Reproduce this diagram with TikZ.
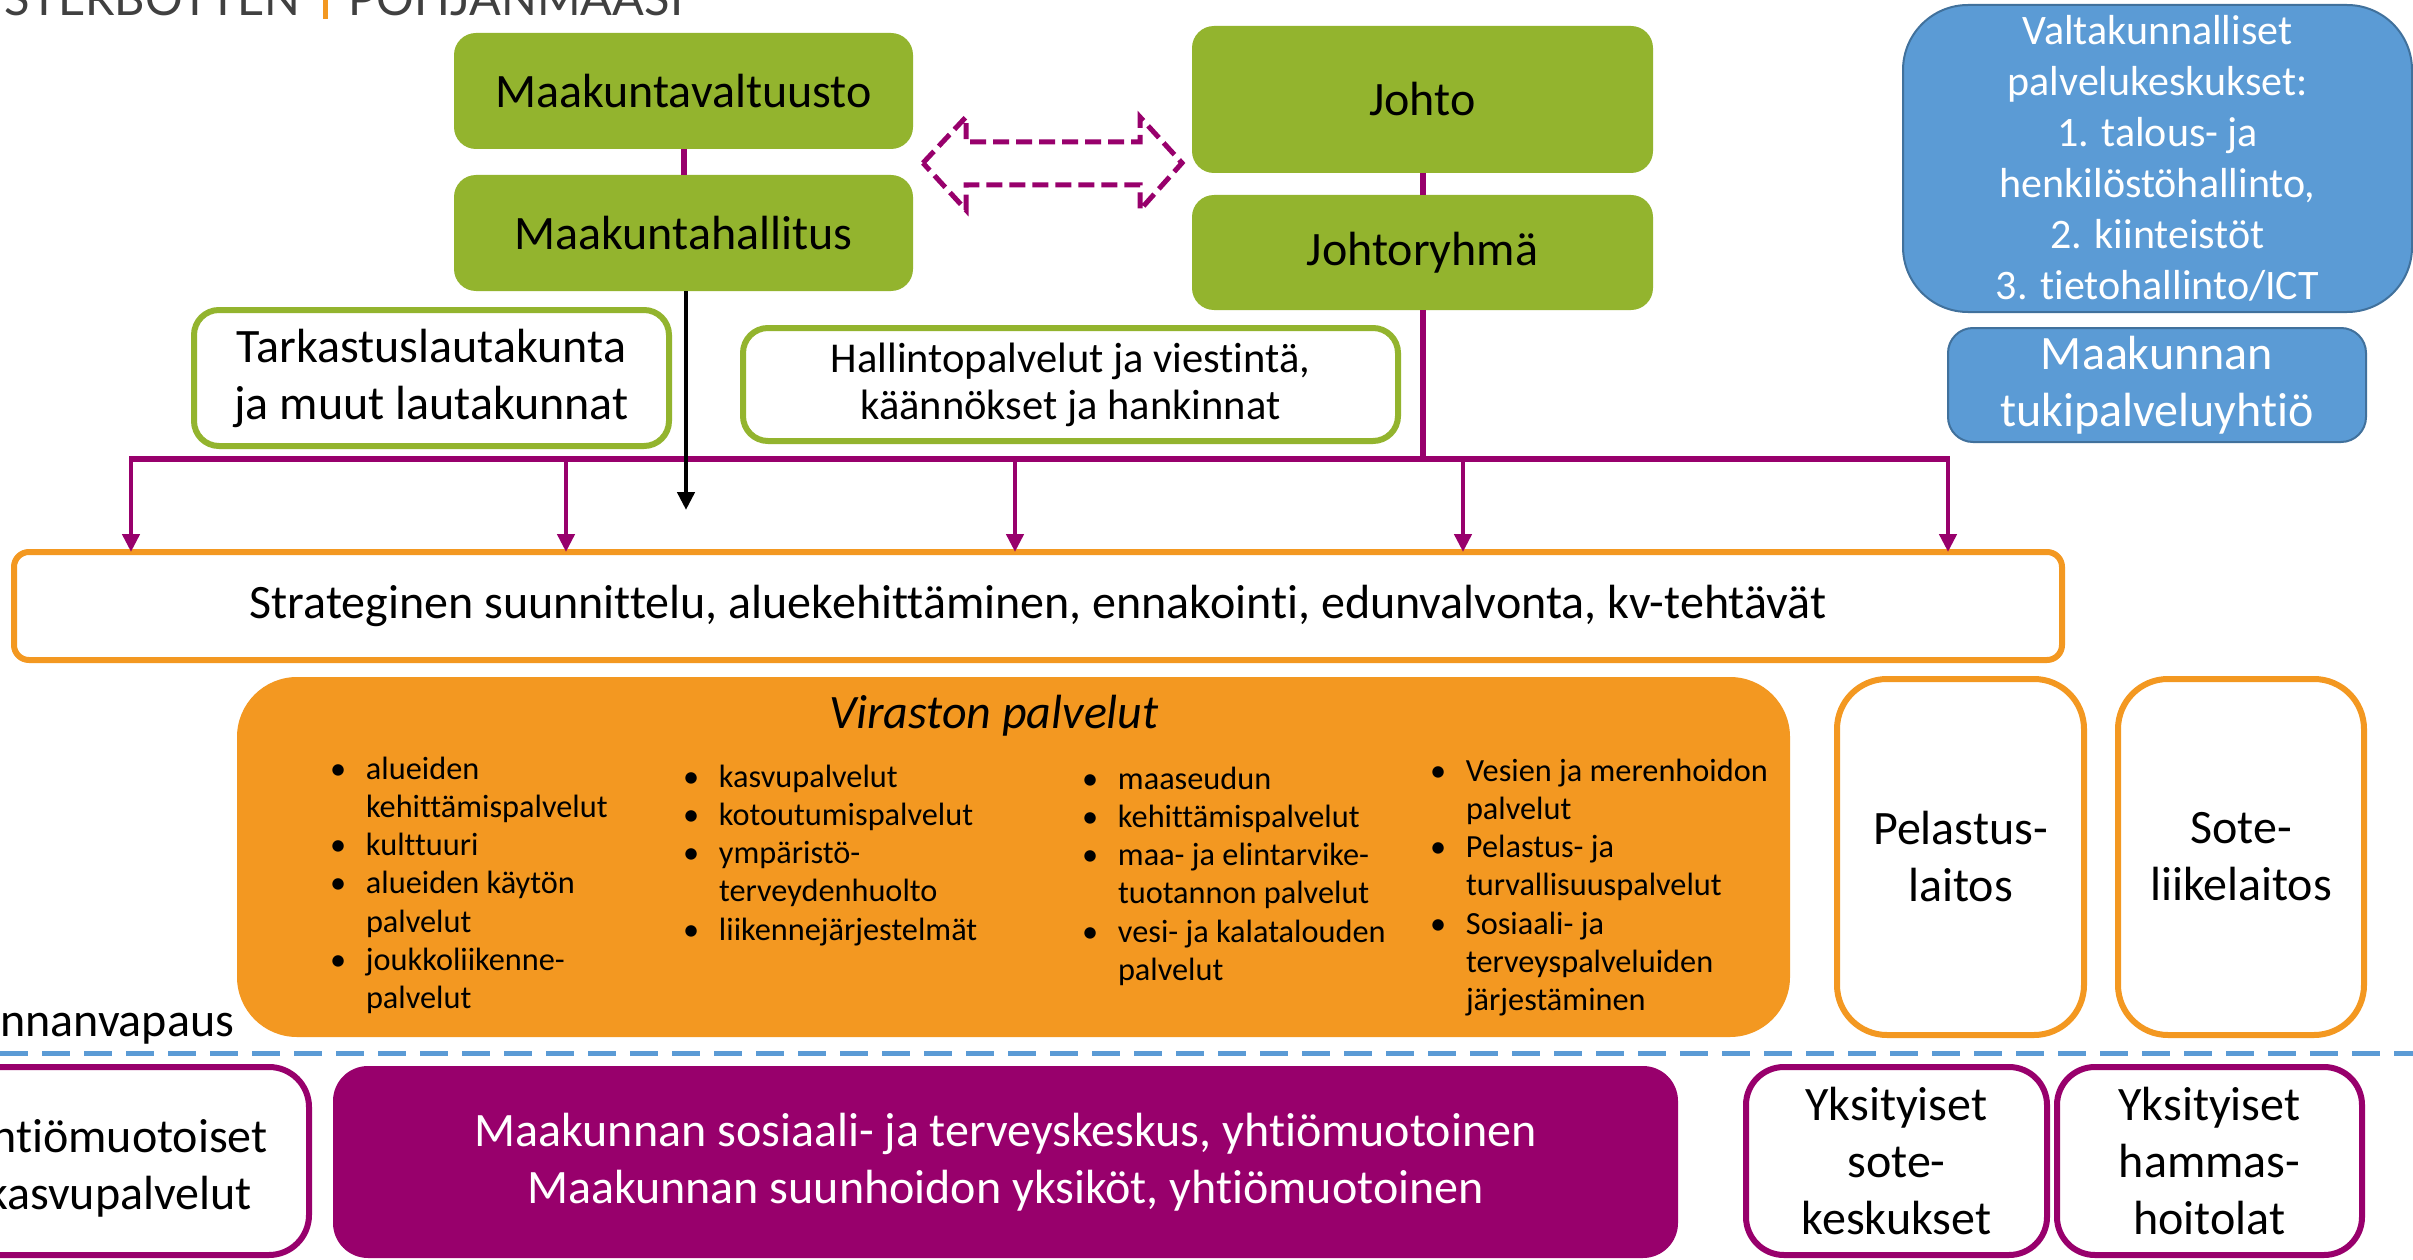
\documentclass[tikz,border=0pt]{standalone}
\usepackage{fontspec}
\setmainfont{Carlito}[Ligatures={TeX,NoCommon}]
\newfontfamily\hdrfont{Lato}
\usetikzlibrary{arrows.meta}
\definecolor{grn}{RGB}{147,180,46}
\definecolor{mag}{RGB}{152,0,108}
\definecolor{org}{RGB}{243,152,33}
\definecolor{blu}{RGB}{91,155,213}
\definecolor{bludk}{RGB}{65,113,156}
\definecolor{hdr}{RGB}{64,64,64}
\newcommand\fBig{\fontsize{48}{57}\selectfont}
\newcommand\fMid{\fontsize{42.5}{47}\selectfont}
\newcommand\fBlue{\fontsize{42}{51}\selectfont}
\newcommand\fBul{\fontsize{32.3}{38.3}\selectfont}
\newcommand\bitem[1]{\makebox[36pt][l]{\textbullet}#1}
\newcommand\bcont[1]{\hspace*{36pt}#1}
\begin{document}
\begin{tikzpicture}[x=1pt,y=-1pt,
  base/.style={inner sep=0pt, outer sep=0pt, align=center, font=\fBig},
  gbox/.style={base, fill=grn, rounded corners=22pt},
  gframe/.style={base, draw=grn, line width=6pt, fill=white, rounded corners=25pt},
  oframe/.style={base, draw=org, line width=6pt, fill=white, rounded corners=50pt},
  mframe/.style={base, draw=mag, line width=6pt, fill=white, rounded corners=38pt},
  bbox/.style={base, fill=blu, draw=bludk, line width=2pt, text=white},
  magline/.style={draw=mag, line width=6pt},
  drop/.style={draw=mag, line width=4.5pt, -{Triangle[length=18pt,width=17pt]}},
  blkarr/.style={draw=black, line width=4.5pt, -{Triangle[length=18pt,width=17pt]}},
  dasharr/.style={draw=mag, line width=5pt, dash pattern=on 16pt off 7pt},
  bdash/.style={draw=blu, line width=5pt, dash pattern=on 28pt off 14pt},
  bullets/.style={inner sep=0pt, outer sep=0pt, anchor=base west, font=\fBul, align=left}
]
\useasboundingbox (0,0) rectangle (2413,1260);
\fill[white] (0,0) rectangle (2413,1260);

% header
\node[inner sep=0pt, anchor=base east, font=\hdrfont\fontsize{47}{50}\selectfont, text=hdr] (h1) at (300,16) {STERBOTTEN};
\node[inner sep=0pt, anchor=base west, font=\hdrfont\fontsize{47}{50}\selectfont, text=hdr] (h2) at (348,16) {POHJANMAASI};
\fill[org] (323,-5) rectangle (328,19);

% green governance boxes
\node[gbox, minimum width=459pt, minimum height=116pt] (mval) at (683.5,91) {Maakuntavaltuusto};
\node[gbox, minimum width=459pt, minimum height=116pt] (mhal) at (683.5,233) {Maakuntahallitus};
\node[gbox, minimum width=461pt, minimum height=147pt] (johto) at (1422.5,99.5) {Johto};
\node[gbox, minimum width=461pt, minimum height=115pt] (johtor) at (1422.5,252.5) {Johtoryhmä};

\node[gframe, minimum width=475pt, minimum height=136pt] (tark) at (431.5,378) {Tarkastuslautakunta\\ja muut lautakunnat};
\node[gframe, font=\fMid, minimum width=655pt, minimum height=113pt] (hall) at (1070.5,384.5) {Hallintopalvelut ja viestintä,\\käännökset ja hankinnat};

% blue boxes
\node[bbox, font=\fBlue, rounded corners=65pt, minimum width=509pt, minimum height=307pt] (val) at (2157.5,158.5)
  {Valtakunnalliset\\palvelukeskukset:\\1. talous- ja\\henkilöstöhallinto,\\2. kiinteistöt\\3. tietohallinto/ICT};
\node[bbox, rounded corners=25pt, minimum width=418pt, minimum height=114pt] (tuki) at (2157,385) {Maakunnan\\tukipalveluyhtiö};

% strategic box
\node[base, draw=org, line width=6pt, fill=white, rounded corners=15pt, minimum width=2048pt, minimum height=108pt] (strat) at (1038,606)
  {Strateginen suunnittelu, aluekehittäminen, ennakointi, edunvalvonta, kv-tehtävät};

% Viraston palvelut
\node[base, fill=org, rounded corners=60pt, minimum width=1553pt, minimum height=360pt] (vir) at (1013.5,857) {};
\node[inner sep=0pt, font=\fBig\itshape] (virt) at (994,716) {Viraston palvelut};
\node[bullets] (c1) at (330,779) {\begin{tabular}[t]{@{}l@{}}
\bitem{alueiden}\\ \bcont{kehittämispalvelut}\\ \bitem{kulttuuri}\\ \bitem{alueiden käytön}\\ \bcont{palvelut}\\ \bitem{joukkoliikenne-}\\ \bcont{palvelut}\end{tabular}};
\node[bullets] (c2) at (683,787) {\begin{tabular}[t]{@{}l@{}}
\bitem{kasvupalvelut}\\ \bitem{kotoutumispalvelut}\\ \bitem{ympäristö-}\\ \bcont{terveydenhuolto}\\ \bitem{liikennejärjestelmät}\end{tabular}};
\node[bullets] (c3) at (1082,789) {\begin{tabular}[t]{@{}l@{}}
\bitem{maaseudun}\\ \bitem{kehittämispalvelut}\\ \bitem{maa- ja elintarvike-}\\ \bcont{tuotannon palvelut}\\ \bitem{vesi- ja kalatalouden}\\ \bcont{palvelut}\end{tabular}};
\node[bullets] (c4) at (1430,781) {\begin{tabular}[t]{@{}l@{}}
\bitem{Vesien ja merenhoidon}\\ \bcont{palvelut}\\ \bitem{Pelastus- ja}\\ \bcont{turvallisuuspalvelut}\\ \bitem{Sosiaali- ja}\\ \bcont{terveyspalveluiden}\\ \bcont{järjestäminen}\end{tabular}};

\node[oframe, minimum width=247pt, minimum height=356pt] (pel) at (1960.5,857) {Pelastus-\\laitos};
\node[oframe, minimum width=246pt, minimum height=356pt] (sote) at (2241,857) {Sote-\\liikelaitos};

% freedom-of-choice divider
\node[inner sep=0pt, anchor=base west, font=\fBig] (vv) at (0,1036) {nnanvapaus};
\coordinate (dl) at (0,1053);
\coordinate (dr) at (2413,1053);
\draw[bdash] (dl) -- (dr);

% bottom row
\node[mframe, rounded corners=40pt, minimum width=389pt, minimum height=188pt] (yhb) at (114.5,1161) {};
\node[inner sep=0pt, anchor=base east, font=\fBig] (yh1) at (268,1152) {htiömuotoiset};
\node[inner sep=0pt, anchor=base east, font=\fBig] (yh2) at (252,1209) {kasvupalvelut};
\node[base, fill=mag, text=white, rounded corners=35pt, minimum width=1345pt, minimum height=192pt] (mmain) at (1005.5,1162)
  {Maakunnan sosiaali- ja terveyskeskus, yhtiömuotoinen\\Maakunnan suunhoidon yksiköt, yhtiömuotoinen};
\node[mframe, minimum width=301pt, minimum height=188pt] (yks1) at (1896.5,1161) {Yksityiset\\sote-\\keskukset};
\node[mframe, minimum width=305pt, minimum height=188pt] (yks2) at (2209.5,1161) {Yksityiset\\hammas-\\hoitolat};

% connectors
\draw[magline] (mval) -- (mhal);
\draw[magline] (johto) -- (johtor);
\coordinate (barL) at (129,459);
\coordinate (barR) at (1950,459);
\draw[magline] (johtor.south) -- (johtor.south |- barL);
\draw[magline] (barL) -- (barR);
\foreach \i/\x in {1/131,2/566,3/1015,4/1463,5/1948} {
  \coordinate (d\i) at (\x,456);
  \draw[drop] (d\i) -- (d\i |- strat.north);
}
\coordinate (btip) at (686,510);
\draw[blkarr] (mhal.south -| btip) -- (btip);

% dashed double arrow between the two leadership columns
\coordinate (al) at (923,163);
\coordinate (ar) at (1182,163);
\draw[dasharr] (al) -- (966,117) -- (966,142) -- (1140,142) -- (1140,117) -- (ar)
  -- (1140,210) -- (1140,185) -- (966,185) -- (966,210) -- cycle;
\end{tikzpicture}
\end{document}
